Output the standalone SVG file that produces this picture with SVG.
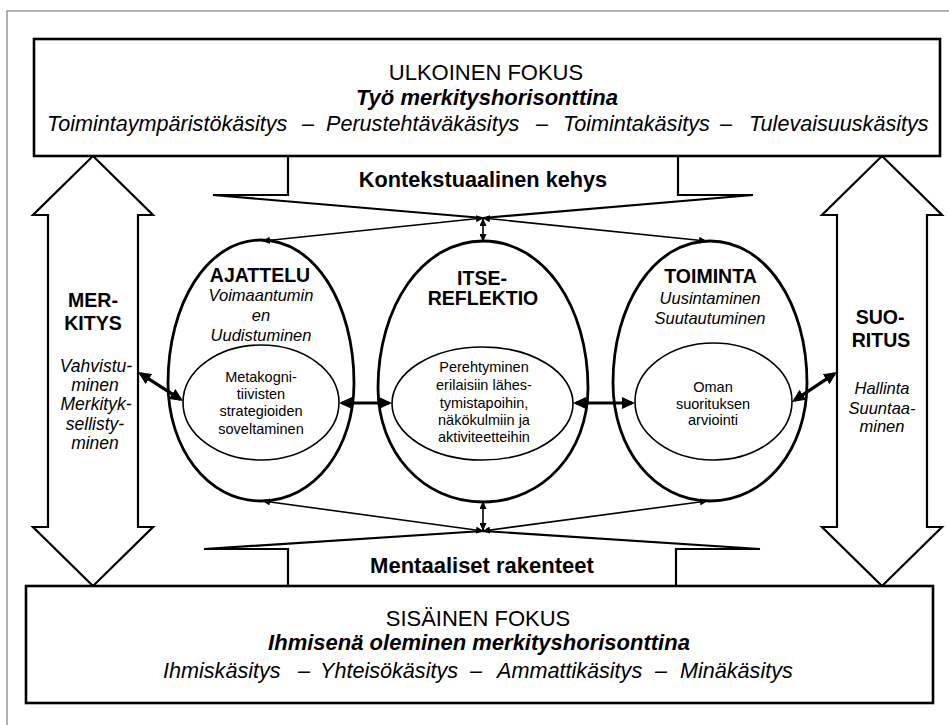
<svg xmlns="http://www.w3.org/2000/svg" width="949" height="725" viewBox="0 0 949 725">
<style>
text{font-family:"Liberation Sans",Arial,Helvetica,sans-serif;fill:#000;text-anchor:middle}
.frame{fill:none;stroke:#808080;stroke-width:1.2}
.box{fill:#fff;stroke:#000;stroke-width:2.6}
.bigarrow{fill:#fff;stroke:#000;stroke-width:2.2;stroke-linejoin:miter}
.callout{fill:none;stroke:#000;stroke-width:2.2;stroke-linejoin:miter}
.outer{fill:#fff;stroke:#000;stroke-width:2.8}
.inner{fill:#fff;stroke:#000;stroke-width:1.6}
.thin{fill:none;stroke:#000;stroke-width:1.6;marker-start:url(#ah);marker-end:url(#ah)}
.thick{fill:none;stroke:#000;stroke-width:3.2;marker-start:url(#ahb);marker-end:url(#ahb)}
.t22{font-size:22px}
.b22{font-size:22px;font-weight:bold}
.bi22{font-size:22px;font-weight:bold;font-style:italic}
.i22{font-size:21.6px;font-style:italic;text-anchor:start}
.title{font-size:19.5px;font-weight:bold}
.sub{font-size:16.5px;font-style:italic}
.side{font-size:17.5px;font-style:italic}
.in{font-size:14.5px}
</style>
<defs>
<marker id="ah" viewBox="0 0 8 7" refX="7" refY="3.5" markerWidth="8" markerHeight="7" markerUnits="userSpaceOnUse" orient="auto-start-reverse"><path d="M0,0 L8,3.5 L0,7 z" fill="#000"/></marker>
<marker id="ahb" viewBox="0 0 13 12" refX="10" refY="6" markerWidth="13" markerHeight="12" markerUnits="userSpaceOnUse" orient="auto-start-reverse"><path d="M0,0 L13,6 L0,12 z" fill="#000"/></marker>
</defs>

<rect class="frame" x="7" y="11" width="1000" height="1000"/>

<g id="arrow-merkitys">
<polygon class="bigarrow" points="93,156 153,215 138,215 138,527 153,527 93,586 33,527 48,527 48,215 33,215"/>
<text class="title" x="93" y="307">MER-</text>
<text class="title" x="93" y="330">KITYS</text>
<text class="side" x="96" y="372">Vahvistu-</text>
<text class="side" x="95" y="391">minen</text>
<text class="side" x="96" y="410">Merkityk-</text>
<text class="side" x="95" y="429.5">sellisty-</text>
<text class="side" x="95" y="448.5">minen</text>
</g>

<g id="arrow-suoritus">
<polygon class="bigarrow" points="882,156 942,215 927,215 927,527 942,527 882,586 822,527 837,527 837,215 822,215"/>
<text class="title" x="880" y="324">SUO-</text>
<text class="title" x="881" y="347">RITUS</text>
<text class="sub" x="882" y="394">Hallinta</text>
<text class="sub" x="882" y="414">Suuntaa-</text>
<text class="sub" x="882" y="432">minen</text>
</g>

<g id="kontekstuaalinen-kehys">
<polyline class="callout" points="288,156 288,195 213,195 483,218 753,195 678,195 678,156"/>
<text class="b22" x="483" y="187" style="font-size:21.7px">Kontekstuaalinen kehys</text>
</g>

<g id="mentaaliset-rakenteet">
<polyline class="callout" points="288,586 288,549 204,549 483,531 760,549 676,549 676,586"/>
<text class="b22" x="482" y="573">Mentaaliset rakenteet</text>
</g>

<g id="ulkoinen-fokus">
<rect class="box" x="34" y="39" width="906" height="117"/>
<text class="t22" x="486" y="80">ULKOINEN FOKUS</text>
<text class="bi22" x="487" y="105">Työ merkityshorisonttina</text>
<text class="i22" y="131"><tspan x="47">Toimintaympäristökäsitys</tspan><tspan x="302">–</tspan><tspan x="326">Perustehtäväkäsitys</tspan><tspan x="536">–</tspan><tspan x="563">Toimintakäsitys</tspan><tspan x="720">–</tspan><tspan x="749">Tulevaisuuskäsitys</tspan></text>
</g>

<g id="sisainen-fokus">
<rect class="box" x="26" y="586" width="907" height="117"/>
<text class="t22" x="478" y="626">SISÄINEN FOKUS</text>
<text class="bi22" x="479" y="650">Ihmisenä oleminen merkityshorisonttina</text>
<text class="i22" y="678"><tspan x="163">Ihmiskäsitys</tspan><tspan x="298">–</tspan><tspan x="320">Yhteisökäsitys</tspan><tspan x="470">–</tspan><tspan x="497">Ammattikäsitys</tspan><tspan x="655">–</tspan><tspan x="680">Minäkäsitys</tspan></text>
</g>

<g id="ajattelu">
<path class="outer" d="M261,240 C315,240 354,304 354,383 C354,448.2 315,501 261,501 C207,501 168,448.2 168,383 C168,304 207,240 261,240Z"/>
<ellipse class="inner" cx="261" cy="402.5" rx="78" ry="57.5"/>
<text class="title" x="260" y="282">AJATTELU</text>
<text class="sub" x="261" y="300.5">Voimaantumin</text>
<text class="sub" x="261" y="320.5">en</text>
<text class="sub" x="261" y="340.5">Uudistuminen</text>
<text class="in" x="261" y="382">Metakogni-</text>
<text class="in" x="261" y="399">tiivisten</text>
<text class="in" x="261" y="416">strategioiden</text>
<text class="in" x="261" y="433.5">soveltaminen</text>
</g>

<g id="itse-reflektio">
<path class="outer" d="M483,241 C544,241 588,306.8 588,388 C588,451 544,502 483,502 C422,502 378,451 378,388 C378,306.8 422,241 483,241Z"/>
<ellipse class="inner" cx="482.5" cy="403.5" rx="90.5" ry="56.5"/>
<text class="title" x="482" y="285">ITSE-</text>
<text class="title" x="483" y="305">REFLEKTIO</text>
<text class="in" x="484" y="372">Perehtyminen</text>
<text class="in" x="484" y="390">erilaisiin lähes-</text>
<text class="in" x="484" y="408">tymistapoihin,</text>
<text class="in" x="484" y="425">näkökulmiin ja</text>
<text class="in" x="484" y="442">aktiviteetteihin</text>
</g>

<g id="toiminta">
<path class="outer" d="M710,241 C766.3,241 807,304.6 807,383 C807,448.2 766.3,501 710,501 C653.7,501 613,448.2 613,383 C613,304.6 653.7,241 710,241Z"/>
<ellipse class="inner" cx="713.5" cy="401.5" rx="78.5" ry="58.5"/>
<text class="title" x="710.5" y="283">TOIMINTA</text>
<text class="sub" x="710" y="304">Uusintaminen</text>
<text class="sub" x="710" y="324">Suutautuminen</text>
<text class="in" x="713" y="391.5">Oman</text>
<text class="in" x="713" y="408.5">suorituksen</text>
<text class="in" x="713" y="425">arviointi</text>
</g>

<g id="connectors">
<line class="thin" x1="483" y1="218" x2="263" y2="241"/>
<line class="thin" x1="483" y1="218" x2="706" y2="241"/>
<line class="thin" x1="483" y1="219" x2="483" y2="241"/>
<line class="thin" x1="483" y1="531" x2="263" y2="501"/>
<line class="thin" x1="483" y1="531" x2="707" y2="501"/>
<line class="thin" x1="483" y1="530" x2="483" y2="502"/>
<line class="thick" x1="342" y1="403" x2="389" y2="403"/>
<line class="thick" x1="576" y1="403" x2="632" y2="403"/>
<line class="thick" x1="140.5" y1="373.6" x2="180.5" y2="399.4"/>
<line class="thick" x1="794.5" y1="400.3" x2="834.5" y2="373.7"/>
</g>
</svg>
